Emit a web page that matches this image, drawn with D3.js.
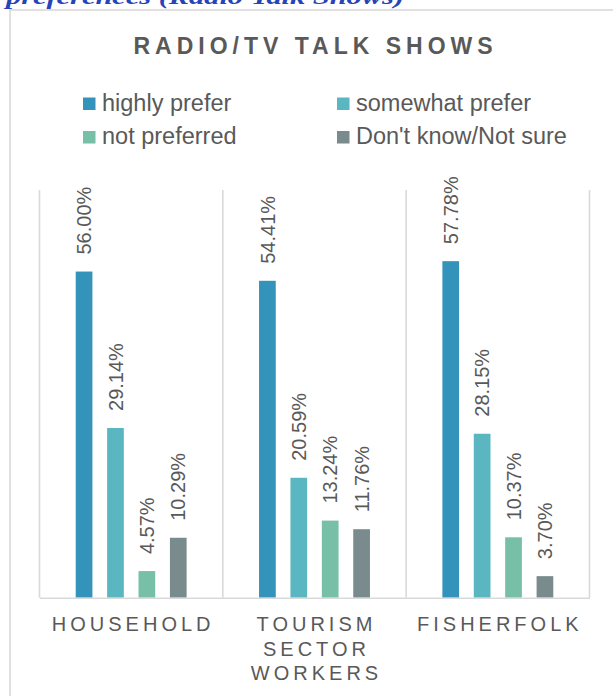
<!DOCTYPE html>
<html>
<head>
<meta charset="utf-8">
<script src="https://cdn.jsdelivr.net/npm/d3@7"></script>
<style>
  html, body { margin: 0; padding: 0; background: #fff; }
  svg { display: block; }
</style>
</head>
<body>
<svg id="chart" width="613" height="696"></svg>
<script>
// Categories (respondent groups), each label split into lines
const categories = ["HOUSEHOLD", "TOURISM SECTOR WORKERS", "FISHERFOLK"];
const categoryLines = [["HOUSEHOLD"], ["TOURISM", "SECTOR", "WORKERS"], ["FISHERFOLK"]];

// Response series
const seriesNames = ["highly prefer", "somewhat prefer", "not preferred", "Don't know/Not sure"];
const seriesColors = ["#3493ba", "#5ab6c0", "#77bfa6", "#7a8b8d"];

// Percent values per series, in category order
const highlyPrefer   = [56.00, 54.41, 57.78];
const somewhatPrefer = [29.14, 20.59, 28.15];
const notPreferred   = [4.57, 13.24, 10.37];
const dontKnow       = [10.29, 11.76, 3.70];
const seriesValues = [highlyPrefer, somewhatPrefer, notPreferred, dontKnow];

const yMax = 70;

const svg = d3.select("#chart");
const textColor = "#595959";
const lineColor = "#d9d9d9";
const font = "'Liberation Sans', Arial, sans-serif";

// Heading text above the chart box (partly clipped at the page top)
svg.append("text")
  .attr("x", 6).attr("y", 4)
  .attr("font-family", "'Liberation Serif', 'DejaVu Serif', serif")
  .attr("font-style", "italic").attr("font-weight", "bold")
  .attr("font-size", 22)
  .attr("fill", "#2743b8")
  .attr("textLength", 398).attr("lengthAdjust", "spacingAndGlyphs")
  .text("preferences (Radio Talk Shows)");

// Chart frame
svg.append("rect")
  .attr("x", 10).attr("y", 10)
  .attr("width", 620).attr("height", 700)
  .attr("fill", "#fff")
  .attr("stroke", lineColor).attr("stroke-width", 1.6);

// Title
svg.append("text")
  .attr("x", 313 + 2.5).attr("y", 53.5)
  .attr("text-anchor", "middle")
  .attr("font-family", font).attr("font-weight", "bold")
  .attr("font-size", 23).attr("letter-spacing", 5)
  .attr("fill", textColor)
  .text("RADIO/TV TALK SHOWS");

// Legend
const legendPos = [
  { x: 83, y: 97.5 }, { x: 337, y: 97.5 },
  { x: 83, y: 131 },  { x: 337, y: 131 }
];
const legend = svg.append("g");
seriesNames.forEach((name, i) => {
  const p = legendPos[i];
  legend.append("rect")
    .attr("x", p.x).attr("y", p.y)
    .attr("width", 12.5).attr("height", 12.5)
    .attr("fill", seriesColors[i]);
  legend.append("text")
    .attr("x", p.x + 19).attr("y", p.y + 13)
    .attr("font-family", font).attr("font-size", 23.5)
    .attr("fill", textColor)
    .text(name);
});

// Plot area
const plot = { left: 39.5, right: 589.5, top: 190, bottom: 597.7 };

const x0 = d3.scaleBand()
  .domain(categories)
  .range([plot.left, plot.right])
  .padding(0);

const x1 = d3.scaleBand()
  .domain(seriesNames)
  .range([0, x0.bandwidth()])
  .paddingInner(0.468)
  .paddingOuter(1.153);

const y = d3.scaleLinear()
  .domain([0, yMax])
  .range([plot.bottom, plot.top]);

// Category separators
const seps = categories.map(c => x0(c)).concat([plot.right]);
svg.append("g").selectAll("line")
  .data(seps)
  .join("line")
  .attr("x1", d => d).attr("x2", d => d)
  .attr("y1", y(yMax)).attr("y2", y(0))
  .attr("stroke", lineColor).attr("stroke-width", 1.6);

// Bars and value labels
const rows = [];
categories.forEach((c, ci) => {
  seriesNames.forEach((s, si) => {
    rows.push({ cat: c, series: s, si, value: seriesValues[si][ci] });
  });
});

const barG = svg.append("g");
barG.selectAll("rect")
  .data(rows)
  .join("rect")
  .attr("x", d => x0(d.cat) + x1(d.series))
  .attr("y", d => y(d.value))
  .attr("width", x1.bandwidth())
  .attr("height", d => y(0) - y(d.value))
  .attr("fill", d => seriesColors[d.si]);

barG.selectAll("text")
  .data(rows)
  .join("text")
  .attr("transform", d => {
    const cx = x0(d.cat) + x1(d.series) + x1.bandwidth() / 2;
    return `translate(${cx},${y(d.value) - 17}) rotate(-90)`;
  })
  .attr("dy", "0.36em")
  .attr("font-family", font).attr("font-size", 20)
  .attr("fill", textColor)
  .text(d => d.value.toFixed(2) + "%");

// Baseline axis
const xAxis = d3.axisBottom(x0).tickSize(0).tickFormat("");
svg.append("g")
  .attr("transform", `translate(0,${plot.bottom})`)
  .call(xAxis)
  .call(g => g.select(".domain").attr("stroke", lineColor).attr("stroke-width", 1.6));

// Category labels
const labelG = svg.append("g");
categories.forEach((c, ci) => {
  const t = labelG.append("text")
    .attr("x", x0(c) + x0.bandwidth() / 2 + 2)
    .attr("y", 631)
    .attr("text-anchor", "middle")
    .attr("font-family", font).attr("font-size", 20)
    .attr("letter-spacing", 4)
    .attr("fill", textColor);
  categoryLines[ci].forEach((line, li) => {
    t.append("tspan")
      .attr("x", x0(c) + x0.bandwidth() / 2 + 2)
      .attr("dy", li === 0 ? 0 : 24.6)
      .text(line);
  });
});
</script>
</body>
</html>
